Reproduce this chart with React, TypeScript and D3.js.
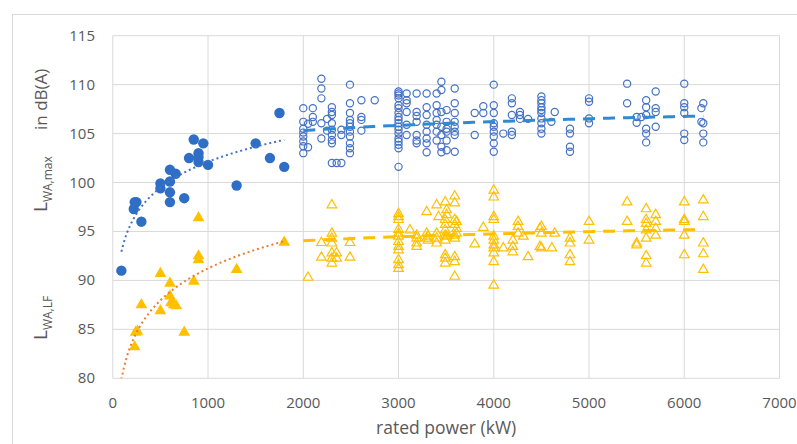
import React from "react";
import * as d3 from "d3";

// ---------- data (rated power kW, level dB(A)) ----------
const xTickValues = [0, 1000, 2000, 3000, 4000, 5000, 6000, 7000];
const yTickValues = [80, 85, 90, 95, 100, 105, 110, 115];

// older turbines: L_WA,max (filled circles)
const oldMax: [number, number][] = [
  [90, 91.0], [230, 98.0], [248, 98.0], [220, 97.3], [300, 96.0],
  [500, 99.9], [500, 99.4], [600, 101.3], [600, 100.1], [600, 99.0], [600, 98.0],
  [660, 100.9], [750, 98.4], [800, 102.5], [850, 104.4], [900, 103.0], [900, 102.6],
  [900, 102.1], [950, 104.0], [1000, 101.8], [1300, 99.7], [1500, 104.0],
  [1650, 102.5], [1750, 107.1], [1800, 101.6],
];

// older turbines: L_WA,LF (filled triangles)
const oldLF: [number, number][] = [
  [230, 83.2], [240, 84.7], [258, 84.8], [300, 87.5], [500, 90.7], [500, 86.9],
  [600, 89.7], [600, 88.4], [610, 87.7], [640, 87.5], [665, 87.4], [750, 84.7],
  [850, 89.9], [900, 96.4], [900, 92.5], [900, 92.1], [1300, 91.1], [1800, 93.9],
];

// newer turbines: L_WA,max (open circles) grouped by rated power
const newMaxGroups: [number, number[]][] = [
  [2000, [107.6, 106.2, 105.5, 105.1, 104.7, 104.2, 103.7, 103.0]],
  [2050, [106.0, 103.6]],
  [2100, [107.6, 106.7, 106.2]],
  [2190, [110.6, 109.6, 108.6, 106.05, 104.5]],
  [2250, [106.5, 105.3]],
  [2300, [107.7, 107.2, 106.9, 106.05, 105.4, 104.85, 104.35, 104.0, 102.0]],
  [2350, [102.0]],
  [2400, [102.0, 105.4, 104.85]],
  [2490, [110.0, 108.1, 107.1, 106.4, 106.05, 105.7, 105.2, 104.7, 104.0, 103.5, 103.0]],
  [2610, [108.4, 106.7, 106.4, 105.3]],
  [2750, [108.4]],
  [3000, [109.3, 109.1, 108.9, 108.6, 107.9, 107.6, 107.1, 106.7, 106.4, 106.05, 105.7, 105.4, 105.0, 104.5, 104.2, 103.85, 103.5, 101.6]],
  [3085, [109.1, 108.4, 108.1, 107.2, 105.9, 104.85]],
  [3190, [109.1, 107.2, 106.8, 106.2, 104.85, 104.3, 104.0]],
  [3295, [109.1, 107.7, 106.9, 105.9, 105.2, 104.5, 104.0, 103.1]],
  [3400, [109.1, 107.9, 107.1, 106.4, 105.9, 105.2, 104.3]],
  [3450, [110.3, 109.45, 107.2, 105.7, 104.85, 103.65, 103.1]],
  [3505, [107.4, 106.2, 105.5, 105.2, 104.3, 103.3]],
  [3590, [109.6, 108.1, 107.1, 106.2, 105.7, 105.2, 104.85, 103.15]],
  [3800, [107.1, 104.85]],
  [3890, [107.8, 107.1]],
  [4000, [110.0, 107.9, 107.1, 106.05, 105.7, 105.2, 104.7, 104.0, 103.15]],
  [4100, [105.0]],
  [4190, [108.6, 108.1, 106.9, 105.2, 104.85]],
  [4275, [107.2, 106.9, 106.5]],
  [4360, [106.5]],
  [4500, [108.8, 108.4, 108.1, 107.7, 107.4, 107.1, 106.55, 106.05, 105.5, 105.0]],
  [4605, [106.2]],
  [4640, [107.2]],
  [4800, [105.5, 105.0, 103.65, 103.15]],
  [5000, [108.6, 108.25, 106.55, 106.05]],
  [5400, [110.1, 108.1]],
  [5500, [106.7, 106.1]],
  [5550, [106.7]],
  [5600, [108.4, 107.7, 106.9, 105.5, 105.0, 104.1]],
  [5700, [109.3, 107.6, 107.2, 105.7]],
  [6000, [110.1, 108.1, 107.7, 107.1, 105.0, 104.35]],
  [6180, [107.6, 106.2]],
  [6200, [108.1, 106.05, 105.0, 104.1]],
];

// newer turbines: L_WA,LF (open triangles) grouped by rated power
const newLFGroups: [number, number[]][] = [
  [2050, [90.3]],
  [2190, [93.85, 92.35]],
  [2300, [97.7, 94.8, 94.3, 93.8, 92.8, 92.25, 91.75]],
  [2350, [92.8, 92.25]],
  [2490, [93.85, 92.35]],
  [3000, [96.8, 96.5, 96.2, 95.2, 94.8, 94.5, 93.95, 93.45, 93.1, 92.1, 91.6, 91.2]],
  [3120, [95.15]],
  [3190, [94.6, 94.3, 93.8, 93.45]],
  [3295, [97.0, 94.8, 94.3]],
  [3310, [94.5, 94.1]],
  [3400, [97.7, 94.8, 94.3, 93.8]],
  [3420, [96.5]],
  [3490, [98.0, 96.2, 95.7, 95.15, 94.6, 94.1, 92.6, 92.25, 91.75]],
  [3505, [97.2, 96.7, 94.5]],
  [3590, [98.6, 97.9, 96.2, 95.7, 94.6, 94.3, 92.4, 91.9, 90.4]],
  [3610, [96.0, 95.3, 94.8]],
  [3800, [93.7]],
  [3890, [95.4]],
  [4000, [99.2, 98.5, 96.5, 96.2, 94.5, 94.1, 93.6, 93.3, 92.8, 91.9, 89.5]],
  [4100, [93.3]],
  [4200, [94.1, 93.45, 92.9]],
  [4255, [96.0, 95.5, 94.8]],
  [4310, [94.5]],
  [4360, [92.4]],
  [4485, [95.3, 93.45]],
  [4500, [95.5, 94.8, 93.3]],
  [4610, [93.3]],
  [4640, [94.8]],
  [4800, [94.3, 93.8, 92.6, 91.9]],
  [5000, [96.0, 94.1]],
  [5400, [98.0, 96.0]],
  [5500, [93.8, 93.6]],
  [5600, [97.3, 96.2, 95.8, 95.15, 94.3, 92.5, 91.75]],
  [5700, [96.7, 96.0, 95.3, 94.6]],
  [6000, [98.0, 96.2, 96.0, 94.6, 92.6]],
  [6200, [98.2, 96.5, 93.8, 92.7, 91.1]],
];

// logarithmic trendlines of the newer turbines at their ends
const newMaxTrendEnds: [number, number][] = [[2000, 105.3], [6200, 106.8]];
const newLFTrendEnds: [number, number][] = [[2000, 94.05], [6200, 95.2]];

const flatten = (g: [number, number[]][]): [number, number][] =>
  g.flatMap(([x, ys]) => ys.map((y) => [x, y] as [number, number]));

const newMax = flatten(newMaxGroups);
const newLF = flatten(newLFGroups);

// logarithmic least-squares trend (as in the spreadsheet trendlines)
function logFit(pts: [number, number][]) {
  const lx = pts.map((p) => Math.log(p[0]));
  const ys = pts.map((p) => p[1]);
  const mx = d3.mean(lx)!;
  const my = d3.mean(ys)!;
  let sxy = 0, sxx = 0;
  lx.forEach((v, i) => { sxy += (v - mx) * (ys[i] - my); sxx += (v - mx) * (v - mx); });
  const b = sxy / sxx;
  const a = my - b * mx;
  return (x: number) => a + b * Math.log(x);
}

// logarithmic curve through two end points
function logThrough(ends: [number, number][]) {
  const [[x0, y0], [x1, y1]] = ends;
  const b = (y1 - y0) / Math.log(x1 / x0);
  return (x: number) => y0 + b * Math.log(x / x0);
}

// ---------- layout ----------
const W = 797, H = 444;
const plot = { left: 112.8, right: 779.5, top: 35.7, bottom: 378.3 };

const C = {
  grid: "#d9d9d9",
  text: "#595959",
  blueFill: "#2f6ec5",
  blueOpen: "#4472c4",
  blueDash: "#2f8ad2",
  blueDot: "#4472c4",
  gold: "#ffc000",
  orangeDot: "#ed7d31",
};

export default function App() {
  const x = d3.scaleLinear().domain([0, 7000]).range([plot.left, plot.right]);
  const y = d3.scaleLinear().domain([80, 115]).range([plot.bottom, plot.top]);

  const curvePath = (f: (v: number) => number, x0: number, x1: number) => {
    const xs = d3.range(0, 81).map((i) => x0 + ((x1 - x0) * i) / 80);
    return d3.line<number>().x((v) => x(v)).y((v) => y(f(v)))(xs) || "";
  };

  const oldRange = d3.extent(oldMax, (d) => d[0]) as [number, number];

  const triFilled = d3.symbol().type(d3.symbolTriangle).size(60)() || "";
  const triOpen = d3.symbol().type(d3.symbolTriangle).size(40)() || "";

  const font = "'Open Sans', 'Noto Sans', sans-serif";

  return (
    <svg width={W} height={H} style={{ position: "absolute", left: 0, top: 0, background: "#fff" }}>
      <defs>
        <clipPath id="plotClip">
          <rect x={plot.left} y={plot.top} width={plot.right - plot.left} height={plot.bottom - plot.top} />
        </clipPath>
      </defs>
      <rect x={12.5} y={14.5} width={800} height={450} fill="#fff" stroke="#d9d9d9" strokeWidth={1} />

      {/* grid */}
      {xTickValues.map((t) => (
        <line key={"gx" + t} x1={x(t)} x2={x(t)} y1={plot.top} y2={plot.bottom} stroke={C.grid} strokeWidth={1} />
      ))}
      {yTickValues.map((t) => (
        <line key={"gy" + t} x1={plot.left} x2={plot.right} y1={y(t)} y2={y(t)} stroke={C.grid} strokeWidth={1} />
      ))}

      {/* tick labels */}
      {yTickValues.map((t) => (
        <text key={"ty" + t} x={95} y={y(t) + 5} textAnchor="end" fontFamily={font} fontSize={15} fill={C.text}>
          {t}
        </text>
      ))}
      {xTickValues.map((t) => (
        <text key={"tx" + t} x={x(t)} y={408} textAnchor="middle" fontFamily={font} fontSize={15} fill={C.text}>
          {t}
        </text>
      ))}
      <text x={(plot.left + plot.right) / 2} y={434} textAnchor="middle" fontFamily={font} fontSize={17.5} fill={C.text}>
        rated power (kW)
      </text>

      {/* y-axis titles */}
      <text transform="translate(47,212) rotate(-90)" fontFamily={font} fontSize={19} fill={C.text}>
        L<tspan fontSize={12} dy={5}>WA,max</tspan>
      </text>
      <text transform="translate(47,130) rotate(-90)" fontFamily={font} fontSize={17} fill={C.text}>
        in dB(A)
      </text>
      <text transform="translate(47,340) rotate(-90)" fontFamily={font} fontSize={19} fill={C.text}>
        L<tspan fontSize={12} dy={5}>WA,LF</tspan>
      </text>

      <g clipPath="url(#plotClip)">
        {/* open circles */}
        {newMax.map((d, i) => (
          <circle key={"om" + i} cx={x(d[0])} cy={y(d[1])} r={3.6} fill="none" stroke={C.blueOpen} strokeWidth={1.2} />
        ))}
        {/* open triangles */}
        {newLF.map((d, i) => (
          <path key={"ol" + i} d={triOpen} transform={`translate(${x(d[0])},${y(d[1])})`} fill="none" stroke={C.gold} strokeWidth={1.2} />
        ))}
        {/* filled circles */}
        {oldMax.map((d, i) => (
          <circle key={"fm" + i} cx={x(d[0])} cy={y(d[1])} r={5.2} fill={C.blueFill} />
        ))}
        {/* filled triangles */}
        {oldLF.map((d, i) => (
          <path key={"fl" + i} d={triFilled} transform={`translate(${x(d[0])},${y(d[1])})`} fill={C.gold} />
        ))}

        {/* trend lines */}
        <path d={curvePath(logFit(oldMax), oldRange[0], oldRange[1])} fill="none" stroke={C.blueDot} strokeWidth={2} strokeDasharray="2,3" />
        <path d={curvePath(logFit(oldLF), oldRange[0], oldRange[1])} fill="none" stroke={C.orangeDot} strokeWidth={2} strokeDasharray="2,3" />
        <path d={curvePath(logThrough(newMaxTrendEnds), newMaxTrendEnds[0][0], newMaxTrendEnds[1][0])} fill="none" stroke={C.blueDash} strokeWidth={3} strokeDasharray="12,8" />
        <path d={curvePath(logThrough(newLFTrendEnds), newLFTrendEnds[0][0], newLFTrendEnds[1][0])} fill="none" stroke={C.gold} strokeWidth={3} strokeDasharray="12,8" />
      </g>
    </svg>
  );
}
